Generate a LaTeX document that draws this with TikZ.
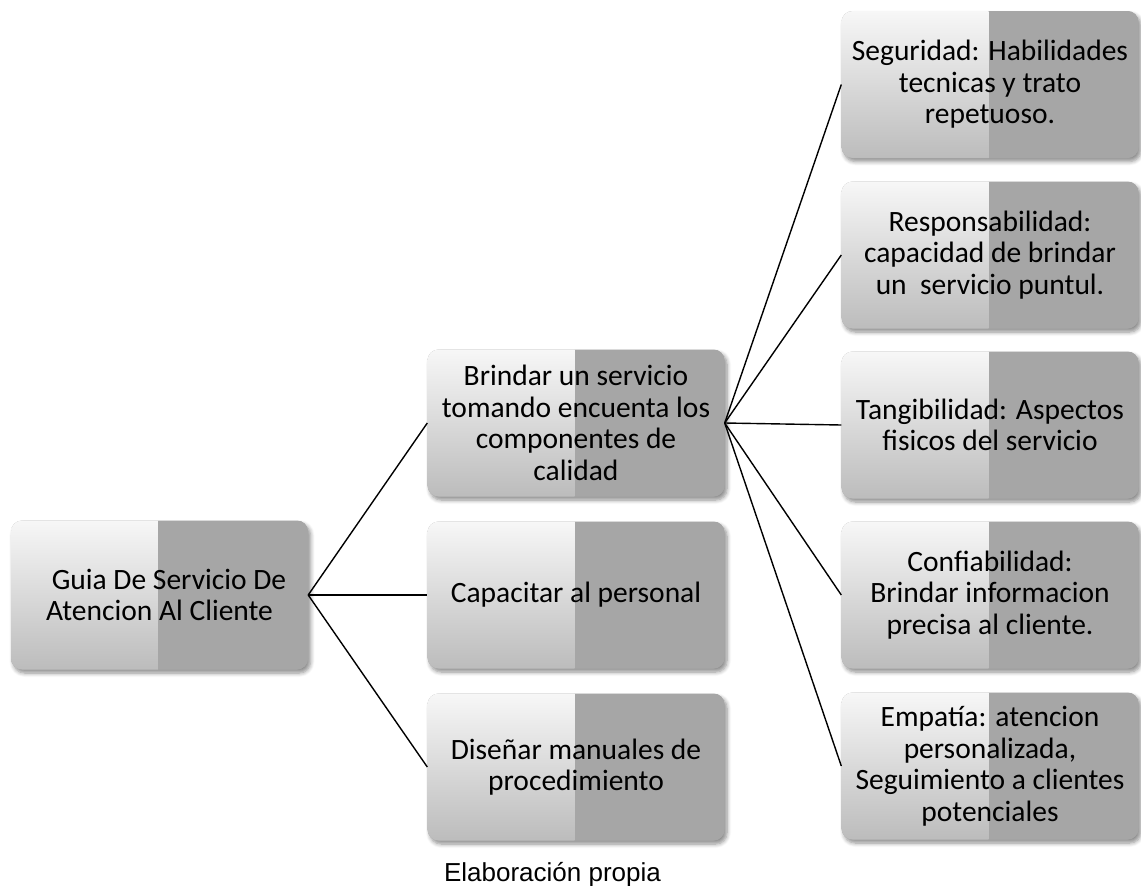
\documentclass[tikz,border=0pt]{standalone}
\usepackage{fontspec}
\setmainfont{Carlito}
\newfontfamily\capfont{Liberation Sans}
\usetikzlibrary{shadows.blur}
\definecolor{lighttop}{HTML}{F7F7F7}
\definecolor{lightmid}{HTML}{E6E6E6}
\definecolor{lightbot}{HTML}{BCBCBC}
\definecolor{darkpart}{HTML}{A6A6A6}
\tikzset{
  boxnode/.style={
    minimum width=297pt, minimum height=147pt, inner sep=0pt,
    rounded corners=11pt, align=center,
    font=\fontsize{29.5}{31.5}\selectfont,
    fill=darkpart,
    blur shadow={shadow xshift=2.5pt, shadow yshift=-3.5pt, shadow blur radius=4pt, shadow blur steps=6, shadow opacity=45},
    path picture={
      \shade[sharp corners, top color=lighttop, middle color=lightmid, bottom color=lightbot]
        (path picture bounding box.south west) rectangle ([xshift=-1.5pt]path picture bounding box.north);
      \fill[sharp corners, darkpart]
        ([xshift=-1.5pt]path picture bounding box.south) rectangle (path picture bounding box.north east);
    }
  },
  link/.style={draw=black, line width=1.4pt}
}
\begin{document}
\begin{tikzpicture}[x=1pt, y=-1pt]
\useasboundingbox (0,0) rectangle (1141,886);
% root
\node[boxnode, minimum height=149pt] (root) at (159.5,595) {\hspace*{19pt}Guia De Servicio De\\Atencion Al Cliente};
% middle column
\node[boxnode] (brindar) at (576,423) {Brindar un servicio\\tomando encuenta los\\componentes de\\calidad};
\node[boxnode] (capacitar) at (576,595) {Capacitar al personal};
\node[boxnode] (disenar) at (576,767) {Diseñar manuales de\\procedimiento};
% right column
\node[boxnode] (seguridad) at (990,84.5) {Seguridad: Habilidades\\tecnicas y trato\\repetuoso.};
\node[boxnode] (respons) at (990,255) {Responsabilidad:\\capacidad de brindar\\un\ \ servicio puntul.};
\node[boxnode] (tangib) at (990,425) {Tangibilidad: Aspectos\\fisicos del servicio};
\node[boxnode] (confiab) at (990,595) {Confiabilidad:\\Brindar informacion\\precisa al cliente.};
\node[boxnode] (empatia) at (990,766) {Empatía: atencion\\personalizada,\\Seguimiento a clientes\\potenciales};
% connectors
\foreach \t in {brindar,capacitar,disenar}
  \draw[link] (root.east) -- (\t.west);
\foreach \t in {seguridad,respons,tangib,confiab,empatia}
  \draw[link] (brindar.east) -- (\t.west);
% caption
\node[font=\capfont\fontsize{26}{30}\selectfont, inner sep=0pt, anchor=base] (caption) at (552.5,881) {Elaboración propia};
\end{tikzpicture}
\end{document}
